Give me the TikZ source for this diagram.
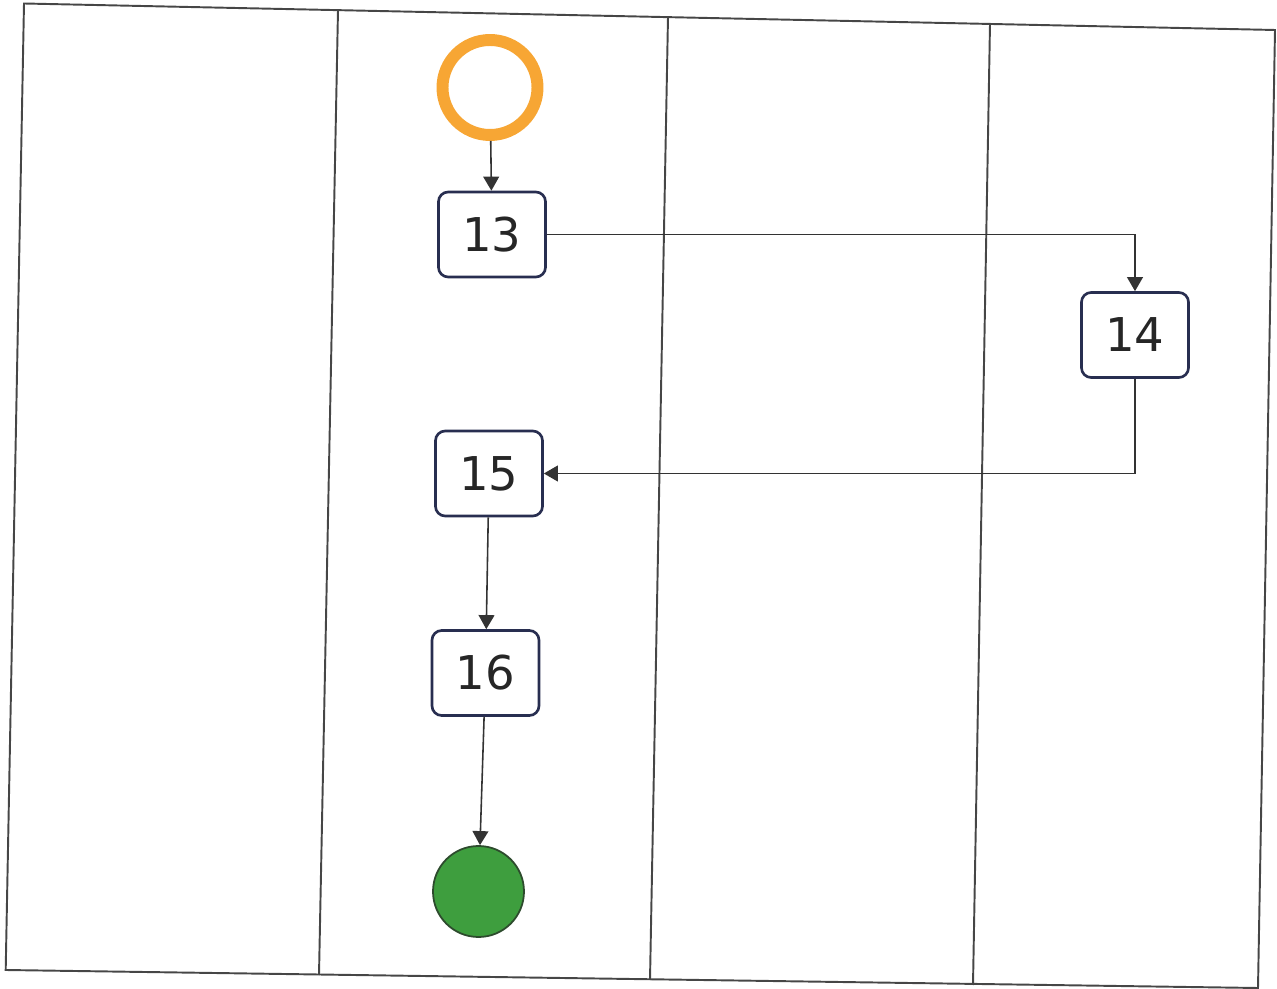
\documentclass[tikz,border=0pt]{standalone}
\usepackage{fontspec}
\setmainfont{DejaVu Sans}
\usetikzlibrary{arrows.meta}
\definecolor{laneline}{RGB}{70,70,70}
\definecolor{boxline}{RGB}{40,46,80}
\definecolor{startring}{RGB}{247,166,52}
\definecolor{stopfill}{RGB}{62,158,62}
\definecolor{stopline}{RGB}{45,75,45}
\begin{document}
\begin{tikzpicture}[x=0.2mm,y=-0.2mm,
  box/.style={draw=boxline,line width=1.5pt,fill=white,rounded corners=5.5pt,minimum width=2.14cm,minimum height=1.7cm,inner sep=0pt,font=\fontsize{26.5}{30}\selectfont,text=black!85},
  lane/.style={draw=laneline,line width=1.1pt},
  flow/.style={draw=black!80,line width=0.9pt,-{Triangle[width=9pt,length=8pt]}}]
\useasboundingbox (0,0) rectangle (1277,989);
% swimlanes
\draw[lane] (24,3.5) -- (1275,30) -- (1258,988) -- (5.7,970) -- cycle;
\draw[lane] (338,10) -- (319,975);
\draw[lane] (668,17) -- (650,980);
\draw[lane] (990,24) -- (973,985);
% start and end
\node[circle,draw=startring,line width=6.8pt,minimum size=1.9cm,inner sep=0pt,outer sep=3.4pt,fill=white] (start) at (490,87.5) {};
\node[circle,draw=stopline,fill=stopfill,line width=1pt,minimum size=1.82cm,inner sep=0pt] (stop) at (478.5,891.5) {};
% activities
\node[box] (n13) at (492,234.5) {13};
\node[box] (n14) at (1135,335) {14};
\node[box] (n15) at (489,473.5) {15};
\node[box] (n16) at (485.5,673) {16};
\draw[flow] (start) -- (n13);
\draw[flow] (n13.east) -| (n14.north);
\draw[flow] (n14.south) |- (n15.east);
\draw[flow] (n15) -- (n16);
\draw[flow] (n16) -- (stop);
\end{tikzpicture}
\end{document}
